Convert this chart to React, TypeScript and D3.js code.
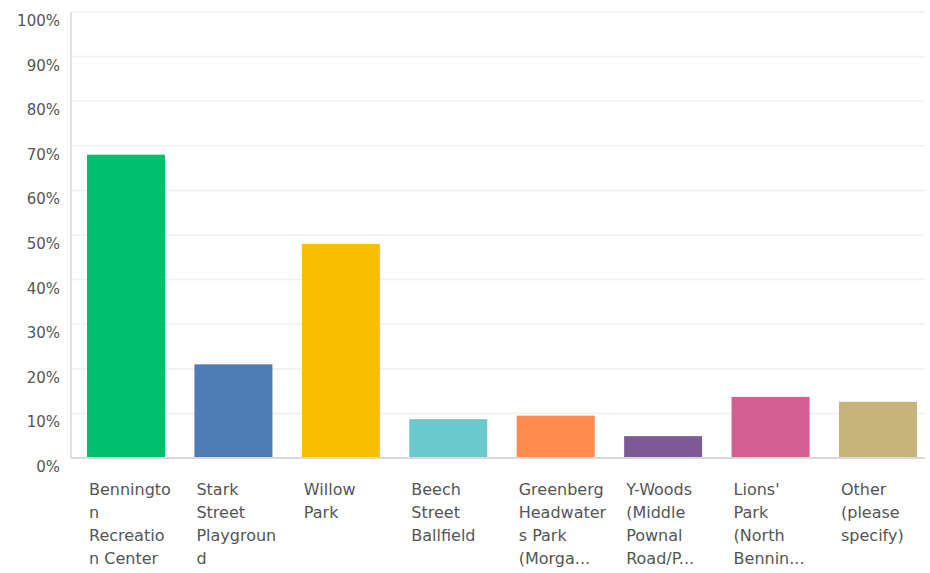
import React from "react";
import * as d3 from "d3";

const categories = [
  "Bennington Recreation Center",
  "Stark Street Playground",
  "Willow Park",
  "Beech Street Ballfield",
  "Greenberg Headwaters Park (Morga...",
  "Y-Woods (Middle Pownal Road/P...",
  "Lions' Park (North Bennin...",
  "Other (please specify)",
];

const categoryLines = [
  ["Benningto", "n", "Recreatio", "n Center"],
  ["Stark", "Street", "Playgroun", "d"],
  ["Willow", "Park"],
  ["Beech", "Street", "Ballfield"],
  ["Greenberg", "Headwater", "s Park", "(Morga..."],
  ["Y-Woods", "(Middle", "Pownal", "Road/P..."],
  ["Lions'", "Park", "(North", "Bennin..."],
  ["Other", "(please", "specify)"],
];

const values = [0.68, 0.21, 0.48, 0.087, 0.095, 0.049, 0.137, 0.126];

const colors = [
  "#00BF6F",
  "#507CB6",
  "#F9BE00",
  "#6BC8CD",
  "#FF8B4F",
  "#7D5A95",
  "#D25F90",
  "#C5B57A",
];

const yTicks = [0, 0.1, 0.2, 0.3, 0.4, 0.5, 0.6, 0.7, 0.8, 0.9, 1.0];

export default function App() {
  const width = 930;
  const height = 573;
  const axisX = 71;
  const gridRight = 925;

  const y = d3.scaleLinear().domain([0, 1]).range([458, 12]);
  const x = d3
    .scaleBand<string>()
    .domain(categories)
    .range([87, 917])
    .paddingInner(0.274)
    .paddingOuter(0);

  const fmt = d3.format(".0%");
  const font = "'DejaVu Sans', Verdana, sans-serif";

  return (
    <svg
      width={width}
      height={height}
      style={{ position: "absolute", left: 0, top: 0, background: "#fff" }}
    >
      <rect x={0} y={0} width={width} height={height} fill="#fff" />
      {yTicks.map((t) =>
        t === 0 ? null : (
          <line
            key={"g" + t}
            x1={axisX}
            x2={gridRight}
            y1={y(t)}
            y2={y(t)}
            stroke="#efefef"
            strokeWidth={1.5}
          />
        )
      )}
      {yTicks.map((t) => (
        <text
          key={"t" + t}
          x={60}
          y={y(t) + 14}
          textAnchor="end"
          fontFamily={font}
          fontSize={15}
          fill="#555"
        >
          {fmt(t)}
        </text>
      ))}
      {categories.map((c, i) => (
        <rect
          key={c}
          x={x(c)}
          y={y(values[i])}
          width={x.bandwidth()}
          height={y(0) - y(values[i])}
          fill={colors[i]}
        />
      ))}
      <line
        x1={axisX}
        x2={axisX}
        y1={y(1)}
        y2={y(0)}
        stroke="#e0e0e0"
        strokeWidth={2}
      />
      <line
        x1={axisX}
        x2={gridRight}
        y1={y(0)}
        y2={y(0)}
        stroke="#d9d9d9"
        strokeWidth={2}
      />
      {categories.map((c, i) => (
        <text
          key={"l" + c}
          fontFamily={font}
          fontSize={16}
          fill="#555"
        >
          {categoryLines[i].map((ln, j) => (
            <tspan key={j} x={(x(c) as number) + 2} y={495 + j * 23}>
              {ln}
            </tspan>
          ))}
        </text>
      ))}
    </svg>
  );
}
